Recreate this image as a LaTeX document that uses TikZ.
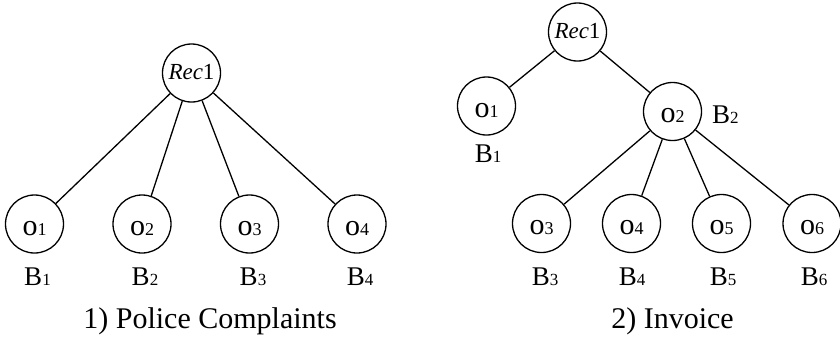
\documentclass[tikz,border=0pt]{standalone}
\usepackage{fontspec}
\setmainfont{Liberation Serif}
% object label: large "o" with a small index digit on the same baseline
\newcommand{\objlab}[1]{{\fontsize{30}{30}\selectfont o}{\fontsize{18}{18}\selectfont #1}}
% bucket label: "B" with a small index digit
\newcommand{\bktlab}[1]{{\fontsize{27}{27}\selectfont B}{\fontsize{17}{17}\selectfont #1}}
\newcommand{\reclab}{{\fontsize{23}{23}\selectfont\itshape Rec\upshape 1}}
\tikzset{
  objnode/.style={circle, draw, line width=1.3pt, minimum size=58pt, inner sep=0pt,
    text height=22pt, text depth=0pt},
  recnode/.style={circle, draw, line width=1.3pt, minimum size=58pt, inner sep=0pt,
    text height=13pt, text depth=0pt},
  bktnode/.style={inner sep=0pt, anchor=base},
  capnode/.style={inner sep=0pt, anchor=base, font=\fontsize{30}{30}\selectfont},
  link/.style={line width=1.3pt}
}
\begin{document}
\begin{tikzpicture}[x=1pt, y=-1pt]
\useasboundingbox (0,0) rectangle (840,341);

% ---- tree 1: Police Complaints ----
\node[recnode] (r1) at (191.5,73) {\reclab};
\node[objnode] (a1) at (34.5,224) {\objlab{1}};
\node[objnode] (a2) at (142,224) {\objlab{2}};
\node[objnode] (a3) at (249.5,224) {\objlab{3}};
\node[objnode] (a4) at (357,224) {\objlab{4}};
\foreach \c in {a1,a2,a3,a4} \draw[link] (r1) -- (\c);
\node[bktnode] (ba1) at (37.5,285) {\bktlab{1}};
\node[bktnode] (ba2) at (145,285) {\bktlab{2}};
\node[bktnode] (ba3) at (253,285) {\bktlab{3}};
\node[bktnode] (ba4) at (360,285) {\bktlab{4}};
\node[capnode] (cap1) at (210,328) {1) Police Complaints};

% ---- tree 2: Invoice ----
\node[recnode] (r2) at (577.5,32) {\reclab};
\node[objnode] (b1) at (486.5,106) {\objlab{1}};
\node[objnode] (b2) at (672.5,111.5) {\objlab{2}};
\draw[link] (r2) -- (b1);
\draw[link] (r2) -- (b2);
\node[bktnode] (bb1) at (488,162) {\bktlab{1}};
\node[bktnode, anchor=base west] (bb2) at (712,123) {\bktlab{2}};
\node[objnode] (b3) at (541.5,223.5) {\objlab{3}};
\node[objnode] (b4) at (631.5,223.5) {\objlab{4}};
\node[objnode] (b5) at (721.5,223.5) {\objlab{5}};
\node[objnode] (b6) at (812,223.5) {\objlab{6}};
\foreach \c in {b3,b4,b5,b6} \draw[link] (b2) -- (\c);
\node[bktnode] (bb3) at (545,285) {\bktlab{3}};
\node[bktnode] (bb4) at (632,285) {\bktlab{4}};
\node[bktnode] (bb5) at (723,285) {\bktlab{5}};
\node[bktnode] (bb6) at (814,285) {\bktlab{6}};
\node[capnode] (cap2) at (672.5,328) {2) Invoice};
\end{tikzpicture}
\end{document}
